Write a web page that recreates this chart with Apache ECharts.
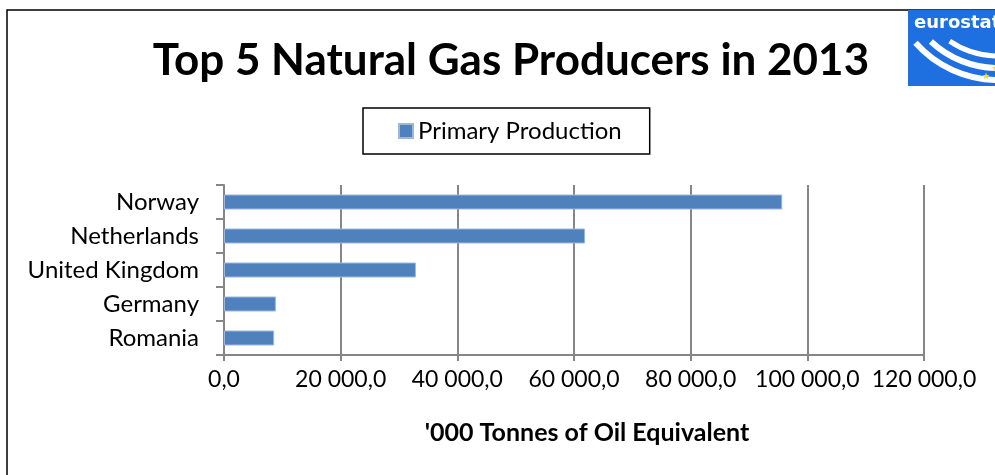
<!DOCTYPE html>
<html>
<head>
<meta charset="utf-8">
<script src="https://cdn.jsdelivr.net/npm/echarts@6/dist/echarts.min.js"></script>
<style>
  html, body { margin: 0; padding: 0; background: #fff; }
  #chart { width: 995px; height: 475px; }
</style>
</head>
<body>
<div id="chart"></div>
<script>
// 数据
const countries = ['Romania', 'Germany', 'United Kingdom', 'Netherlands', 'Norway'];
const production = [8600, 8900, 32900, 61900, 95700];
const seriesName = 'Primary Production';

const fontFamily = 'Lato, "Open Sans", sans-serif';
const chart = echarts.init(document.getElementById('chart'));

chart.setOption({
  animation: false,
  title: {
    text: 'Top 5 Natural Gas Producers in 2013',
    left: 506,
    top: 34,
    textAlign: 'center',
    textStyle: { fontFamily: fontFamily, fontSize: 44, fontWeight: 'bold', color: '#000' }
  },
  legend: {
    data: [seriesName],
    left: 363,
    top: 108,
    padding: [11, 28, 11, 35],
    borderColor: '#000',
    borderWidth: 1.5,
    itemWidth: 14,
    itemHeight: 14,
    itemGap: 6,
    icon: 'rect',
    textStyle: { fontFamily: fontFamily, fontSize: 24, color: '#000' }
  },
  grid: {
    left: 224,
    right: 71,
    top: 185,
    bottom: 120,
    containLabel: false
  },
  xAxis: {
    type: 'value',
    min: 0,
    max: 120000,
    interval: 20000,
    name: "'000 Tonnes of Oil Equivalent",
    nameLocation: 'middle',
    nameGap: 65,
    nameTextStyle: { fontFamily: fontFamily, fontSize: 25, fontWeight: 'bold', color: '#000', padding: [0, 0, 0, 26] },
    axisLine: { show: true, lineStyle: { color: '#868686', width: 2 } },
    axisTick: { show: true, length: 6, lineStyle: { color: '#868686', width: 2 } },
    axisLabel: {
      margin: 13,
      fontFamily: fontFamily,
      fontSize: 23,
      color: '#000',
      formatter: function (v) {
        const s = String(v).replace(/\B(?=(\d{3})+(?!\d))/g, ' ');
        return s + ',0';
      }
    },
    splitLine: { show: true, lineStyle: { color: '#868686', width: 2 } }
  },
  yAxis: {
    type: 'category',
    data: countries,
    axisLine: { show: true, lineStyle: { color: '#868686', width: 2 } },
    axisTick: { show: true, length: 8, lineStyle: { color: '#868686', width: 2 } },
    axisLabel: { margin: 25, fontFamily: fontFamily, fontSize: 24, color: '#000' }
  },
  series: [
    {
      name: seriesName,
      type: 'bar',
      data: production,
      barWidth: 15,
      itemStyle: { color: '#4F81BD', borderColor: '#9DB8DC', borderWidth: 1 }
    }
  ],
  graphic: [
    {
      type: 'rect',
      z: -1,
      shape: { x: 7, y: 10, width: 1000, height: 480 },
      style: { fill: '#fff', stroke: '#000', lineWidth: 1.5 }
    },
    {
      type: 'group',
      left: 908,
      top: 10,
      children: [
        { type: 'rect', shape: { x: 0, y: 0, width: 90, height: 76 }, style: { fill: '#1E6FE0' } },
        { type: 'text', style: { x: 6, y: 4, text: 'eurostat', fill: '#fff', font: 'bold 18px "DejaVu Sans", sans-serif' } },
        { type: 'arc', shape: { cx: 90, cy: -40, r: 110, startAngle: Math.PI * 0.5, endAngle: Math.PI * 0.77 }, style: { stroke: '#fff', lineWidth: 6, fill: null } },
        { type: 'arc', shape: { cx: 90, cy: -40, r: 98, startAngle: Math.PI * 0.5, endAngle: Math.PI * 0.74 }, style: { stroke: '#fff', lineWidth: 6, fill: null } },
        { type: 'arc', shape: { cx: 90, cy: -40, r: 86, startAngle: Math.PI * 0.5, endAngle: Math.PI * 0.69 }, style: { stroke: '#fff', lineWidth: 5, fill: null } },
        { type: 'text', style: { x: 74, y: 62, text: '★', fill: '#FFE000', font: '9px "DejaVu Sans"' } },
        { type: 'text', style: { x: 83, y: 54, text: '★', fill: '#FFE000', font: '9px "DejaVu Sans"' } }
      ]
    }
  ]
});
</script>
</body>
</html>
